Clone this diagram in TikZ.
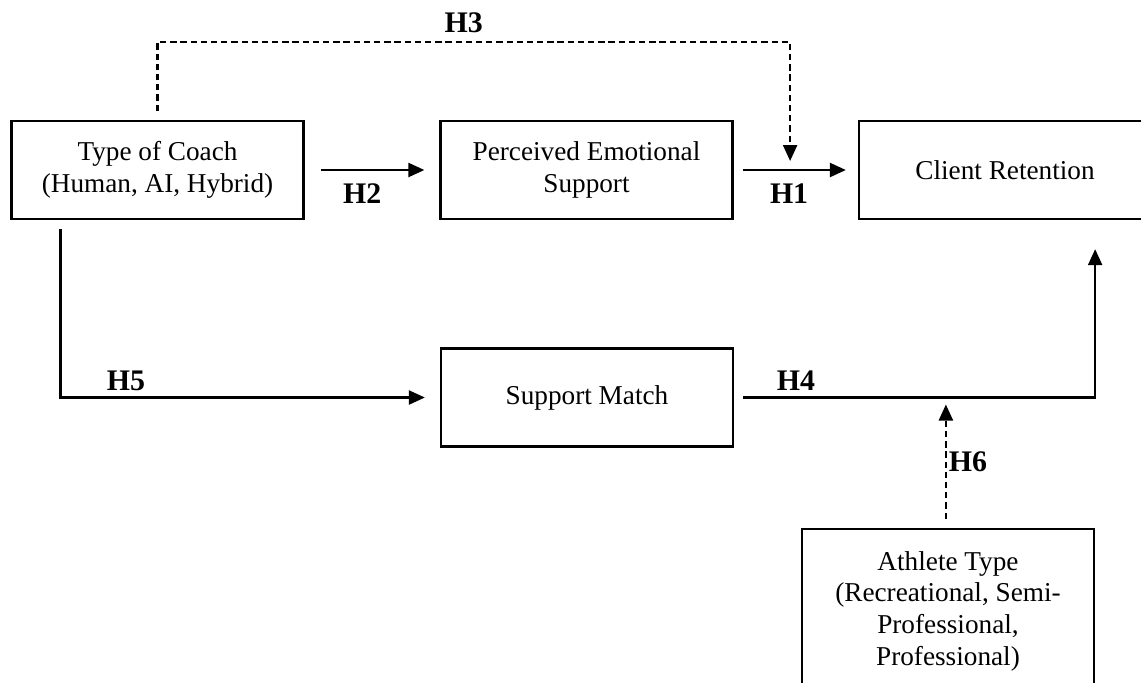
\documentclass[tikz,border=0pt]{standalone}
\usepackage{fontspec}
\setmainfont{Liberation Serif}
\usetikzlibrary{arrows.meta,positioning,calc}

\begin{document}
\begin{tikzpicture}[
  every node/.style={font=\fontsize{15.5}{18}\selectfont},
  >={Triangle[length=3.2mm,width=2.8mm]},
  var/.style ={draw,line width=1.3pt,minimum width=5.84cm,
               minimum height=1.96cm,align=center,inner sep=2pt},
  hyp/.style ={font=\fontsize{17}{20}\selectfont\bfseries,inner sep=1pt},
  link/.style={->,line width=1.3pt},
  modlink/.style={->,line width=1.3pt,dash pattern=on 3.6pt off 2.2pt}
]
\useasboundingbox (0,0) rectangle (22.82,-13.64);

\node[var] (C)  at (3.15,-3.40)  {Type of Coach\\(Human, AI, Hybrid)};
\node[var] (PES) at (11.73,-3.40) {Perceived Emotional\\Support};
\node[var] (CR) at (20.10,-3.40) {Client Retention};
\node[var] (SM) at (11.74,-7.95) {Support Match};
\node[var,minimum height=3.28cm] (AT) at (18.96,-12.22)
  {Athlete Type\\(Recreational, Semi-\\Professional,\\Professional)};

\draw[link] ([xshift=3.2mm]C.east) -- node[hyp,below=6pt,pos=0.4]{H2} ([xshift=-3mm]PES.west);
\draw[link] ([xshift=1.8mm]PES.east) -- node[hyp,below=6pt,pos=0.45]{H1}
  coordinate[pos=0.46] (m1) ([xshift=-2.4mm]CR.west);
\draw[modlink] ([yshift=1.8mm]C.north) |- node[hyp,above=3.5pt,pos=0.742]{H3}
  ($(m1)+(0,2.56)$) -- ([yshift=1.8mm]m1);
\draw[link] ([xshift=1cm,yshift=-1.8mm]C.south west) |- node[hyp,above=2pt,pos=0.59]{H5}
  ([xshift=-3mm]SM.west);
\draw[link] ([xshift=1.8mm]SM.east) -| node[hyp,above=2.5pt,pos=0.075]{H4}
  coordinate[pos=0.288] (m2) ($(AT.north east |- CR.south)+(0,-5.8mm)$);
\draw[modlink] ($(m2 |- AT.north)+(0,1.8mm)$) -- node[hyp,right=0pt,midway]{H6}
  ([yshift=-1.4mm]m2);
\end{tikzpicture}
\end{document}
